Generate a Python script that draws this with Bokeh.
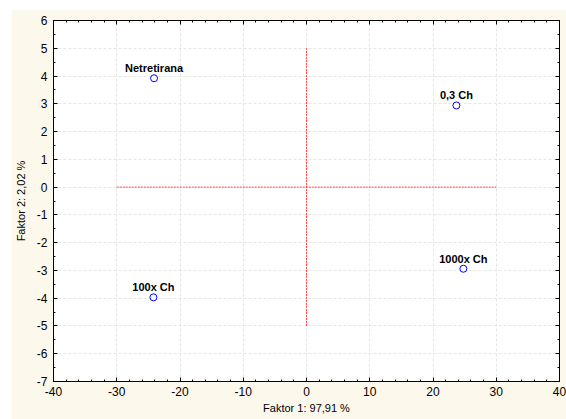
from bokeh.plotting import figure
from bokeh.models import LinearAxis, ColumnDataSource, Range1d, SingleIntervalTicker, LabelSet, CustomJSTickFormatter
from bokeh.core.properties import value
from bokeh.embed import file_html
from bokeh.resources import INLINE

labels = ["Netretirana", "0,3 Ch", "1000x Ch", "100x Ch"]
faktor1 = [-24.1, 23.7, 24.8, -24.2]
faktor2 = [3.92, 2.94, -2.94, -3.97]

hline_x = [-30, 30]
hline_y = [0, 0]
vline_x = [0, 0]
vline_y = [-5, 5]

FONT = "Liberation Sans"
CREAM = "#fdf8ec"

p = figure(width=555, height=410, output_backend="svg", toolbar_location=None,
           x_range=Range1d(-40, 40), y_range=Range1d(-7, 6),
           x_axis_location=None, y_axis_location=None,
           min_border_left=41, min_border_right=7, min_border_top=11, min_border_bottom=38,
           background_fill_color="white", border_fill_color=CREAM)
p.margin = (9, 0, 0, 11)
p.outline_line_color = "black"

xt = SingleIntervalTicker(interval=10, num_minor_ticks=5)
yt = SingleIntervalTicker(interval=1, num_minor_ticks=2)
blank = CustomJSTickFormatter(code="return '';")
plain = CustomJSTickFormatter(code="return String(tick);")

def style(ax, show_labels):
    ax.axis_line_color = "black"
    ax.major_tick_in = 4
    ax.major_tick_out = 0
    ax.minor_tick_in = 2
    ax.minor_tick_out = 0
    ax.major_tick_line_color = "black"
    ax.minor_tick_line_color = "black"
    ax.major_label_text_font = FONT
    ax.axis_label_text_font = FONT
    ax.axis_label_text_font_style = "normal"
    ax.axis_label_text_font_size = "11px"
    ax.axis_label_text_color = "black"
    if show_labels:
        ax.formatter = plain
        ax.major_label_text_font_size = "12px"
        ax.major_label_text_color = "black"
        ax.major_label_standoff = 5
    else:
        ax.formatter = blank
        ax.major_label_standoff = 0

bx = LinearAxis(ticker=xt, axis_label="Faktor 1: 97,91 %")
style(bx, True)
bx.axis_label_standoff = 3
ly = LinearAxis(ticker=yt, axis_label="Faktor 2: 2,02 %")
style(ly, True)
ly.axis_label_standoff = 7
ly.major_label_standoff = 6
tx = LinearAxis(ticker=xt)
style(tx, False)
ry = LinearAxis(ticker=yt)
style(ry, False)
p.add_layout(bx, "below")
p.add_layout(ly, "left")
p.add_layout(tx, "above")
p.add_layout(ry, "right")

p.xgrid.ticker = xt
p.ygrid.ticker = yt
for g in (p.xgrid, p.ygrid):
    g.grid_line_color = "#e6e6e6"
    g.grid_line_dash = "3 2"
    g.grid_line_width = 1

p.line(hline_x, hline_y, line_color="#ff2a2a", line_dash="2 1", line_width=1, line_alpha=0.85)
p.line(vline_x, vline_y, line_color="#ff2a2a", line_dash="2 1", line_width=1, line_alpha=0.85)

src = ColumnDataSource(dict(x=faktor1, y=faktor2, name=labels))
p.scatter("x", "y", source=src, marker="circle", size=7, line_color="blue",
          fill_color="white", line_width=1)
ls = LabelSet(x="x", y="y", text="name", source=src, text_align="center",
              text_baseline="bottom", y_offset=4, text_font=value(FONT),
              text_font_size="11px", text_font_style="bold", text_color="black")
p.add_layout(ls)

open("out.html", "w").write(file_html(p, INLINE))
